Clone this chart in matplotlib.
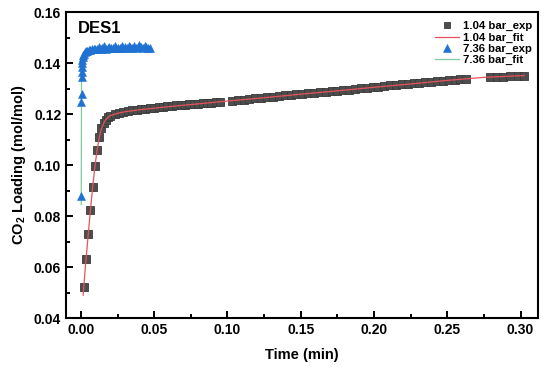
import matplotlib
matplotlib.use("Agg")
import matplotlib.pyplot as plt
from matplotlib.ticker import MultipleLocator

plt.rcParams['font.family'] = ['Liberation Sans', 'DejaVu Sans']
plt.rcParams['font.weight'] = 'bold'
plt.rcParams['mathtext.fontset'] = 'custom'
plt.rcParams['mathtext.rm'] = 'Liberation Sans:bold'
plt.rcParams['mathtext.bf'] = 'Liberation Sans:bold'

# ---- data: 1.04 bar experimental ----
t_exp1 = [0.002, 0.0035, 0.005, 0.0065, 0.008, 0.0095, 0.011, 0.0125, 0.014, 0.0155, 0.017, 0.0185, 0.020,
          0.023, 0.026, 0.029, 0.032, 0.035, 0.038, 0.041, 0.044, 0.047, 0.050, 0.053, 0.056, 0.059,
          0.062, 0.065, 0.068, 0.071, 0.074, 0.077, 0.080, 0.083, 0.086, 0.089, 0.092, 0.095,
          0.103, 0.107, 0.111, 0.115, 0.119, 0.123, 0.127, 0.131, 0.135, 0.139, 0.143, 0.147, 0.151,
          0.155, 0.159, 0.163, 0.167, 0.171, 0.175, 0.179, 0.183, 0.187, 0.191, 0.195, 0.199, 0.203,
          0.207, 0.211, 0.215, 0.219, 0.223, 0.227, 0.231, 0.235, 0.239, 0.243, 0.247, 0.251, 0.255,
          0.259, 0.263,
          0.279, 0.284, 0.288, 0.293, 0.298, 0.3025]
y_exp1 = [0.0522, 0.0632, 0.0730, 0.0825, 0.0915, 0.0995, 0.1060, 0.1110, 0.1145, 0.1165, 0.1178, 0.1187, 0.1193,
          0.1199, 0.1204, 0.1208, 0.1211, 0.1214, 0.1217, 0.1219, 0.1221, 0.1223, 0.1225, 0.1227, 0.1229, 0.1231,
          0.1232, 0.1234, 0.1235, 0.1237, 0.1238, 0.1240, 0.1241, 0.1242, 0.1244, 0.1245, 0.1246, 0.1247,
          0.1253, 0.1255, 0.1257, 0.1260, 0.1262, 0.1264, 0.1266, 0.1268, 0.1270, 0.1273, 0.1275, 0.1277, 0.1279,
          0.1281, 0.1283, 0.1286, 0.1288, 0.1290, 0.1292, 0.1294, 0.1296, 0.1299, 0.1301, 0.1303, 0.1305, 0.1307,
          0.1309, 0.1312, 0.1314, 0.1316, 0.1318, 0.1320, 0.1322, 0.1325, 0.1327, 0.1329, 0.1331, 0.1333, 0.1335,
          0.1337, 0.1339,
          0.1345, 0.1346, 0.1347, 0.1348, 0.1350, 0.1351]

# ---- 1.04 bar fit ----
t_fit1 = [0.0015, 0.003, 0.005, 0.0065, 0.008, 0.0095, 0.011, 0.0125, 0.014, 0.016, 0.018, 0.020, 0.025,
          0.030, 0.040, 0.050, 0.060, 0.080, 0.100, 0.125, 0.150, 0.175, 0.200, 0.225, 0.250, 0.275, 0.3025]
y_fit1 = [0.0490, 0.0600, 0.0730, 0.0825, 0.0913, 0.0993, 0.1058, 0.1108, 0.1143, 0.1170, 0.1185, 0.1194, 0.1203,
          0.1209, 0.1217, 0.1223, 0.1229, 0.1240, 0.1251, 0.1264, 0.1278, 0.1291, 0.1305, 0.1318, 0.1332, 0.1344, 0.1351]

# ---- 7.36 bar experimental ----
t_exp7 = [0.0002, 0.0003, 0.0004, 0.0005, 0.0006, 0.0007, 0.0008, 0.0010, 0.0013, 0.0017, 0.0022, 0.0028,
          0.0035, 0.0043, 0.0052, 0.0062, 0.0074, 0.0086, 0.0098,
          0.0110, 0.0122, 0.0134, 0.0146, 0.0158, 0.0170, 0.0182, 0.0194, 0.0206, 0.0218, 0.0230, 0.0242,
          0.0254, 0.0266, 0.0278, 0.0290, 0.0302, 0.0314, 0.0326, 0.0338, 0.0350, 0.0362, 0.0374, 0.0386,
          0.0398, 0.0410, 0.0422, 0.0434, 0.0446, 0.0458, 0.0470]
y_exp7 = [0.0878, 0.1247, 0.1278, 0.1345, 0.1365, 0.1384, 0.1400, 0.1412, 0.1422, 0.1430, 0.1437, 0.1442,
          0.1446, 0.1449, 0.1451, 0.1452, 0.1454, 0.1455, 0.1456,
          0.1457, 0.1462, 0.1456, 0.1458, 0.1465, 0.1457, 0.1459, 0.1463, 0.1458, 0.1460, 0.1466, 0.1458,
          0.1460, 0.1459, 0.1467, 0.1460, 0.1461, 0.1459, 0.1468, 0.1461, 0.1460, 0.1466, 0.1460, 0.1462,
          0.1469, 0.1461, 0.1460, 0.1466, 0.1461, 0.1459, 0.1458]

# ---- 7.36 bar fit ----
t_fit7 = [0.0002, 0.0004, 0.0008, 0.0015, 0.0025, 0.004, 0.006, 0.009, 0.013, 0.020, 0.030, 0.047]
y_fit7 = [0.0845, 0.1370, 0.1405, 0.1425, 0.1437, 0.1446, 0.1451, 0.1455, 0.1457, 0.1459, 0.1460, 0.1461]

labels = ["1.04 bar_exp", "1.04 bar_fit", "7.36 bar_exp", "7.36 bar_fit"]
xticks = [0.00, 0.05, 0.10, 0.15, 0.20, 0.25, 0.30]
yticks = [0.04, 0.06, 0.08, 0.10, 0.12, 0.14, 0.16]

fig = plt.figure(figsize=(5.5, 3.76), dpi=100)
ax = fig.add_axes([0.12, 0.154, 0.859, 0.814])

ax.plot(t_exp1, y_exp1, linestyle='none', marker='s', markersize=5.5, color='#4d4d4d',
        markeredgecolor='#3a3a3a', markeredgewidth=0.6, label=labels[0], zorder=2)
ax.plot(t_fit1, y_fit1, color='#e8525a', linewidth=0.9, label=labels[1], zorder=3)
ax.plot(t_exp7, y_exp7, linestyle='none', marker='^', markersize=6, color='#1f72d2',
        markeredgecolor='#1f72d2', markeredgewidth=0.4, label=labels[2], zorder=2)
ax.plot(t_fit7, y_fit7, color='#7ccba2', linewidth=0.9, label=labels[3], zorder=1)

ax.set_xlim(-0.0102, 0.3122)
ax.set_ylim(0.04, 0.16)
ax.set_xticks(xticks)
ax.set_yticks(yticks)
ax.set_xticklabels([f"{v:.2f}" for v in xticks])
ax.set_yticklabels([f"{v:.2f}" for v in yticks])
ax.xaxis.set_minor_locator(MultipleLocator(0.025))
ax.yaxis.set_minor_locator(MultipleLocator(0.01))
ax.tick_params(which='both', direction='in', width=1.4, labelsize=10)
ax.tick_params(which='major', length=5)
ax.tick_params(which='minor', length=3)
ax.tick_params(axis='both', which='both', top=False, right=False)
for s in ax.spines.values():
    s.set_linewidth(1.5)
for lab in ax.get_xticklabels() + ax.get_yticklabels():
    lab.set_fontweight('bold')

ax.set_xlabel("Time (min)", fontsize=10.5, fontweight='bold', labelpad=8)
ax.set_ylabel(r"CO$_\mathbf{2}$ Loading (mol/mol)", fontsize=10.5, fontweight='bold', labelpad=4)

ax.text(0.025, 0.972, "DES1", transform=ax.transAxes, fontsize=12, fontweight='bold',
        va='top', ha='left')

leg = ax.legend(loc='upper right', bbox_to_anchor=(1.0, 0.99), frameon=False, fontsize=8.2,
                handlelength=2.1, handletextpad=0.35, labelspacing=0.1, borderaxespad=0.15,
                markerscale=0.85)
for t in leg.get_texts():
    t.set_fontweight('bold')

fig.savefig("out.png", dpi=100)
